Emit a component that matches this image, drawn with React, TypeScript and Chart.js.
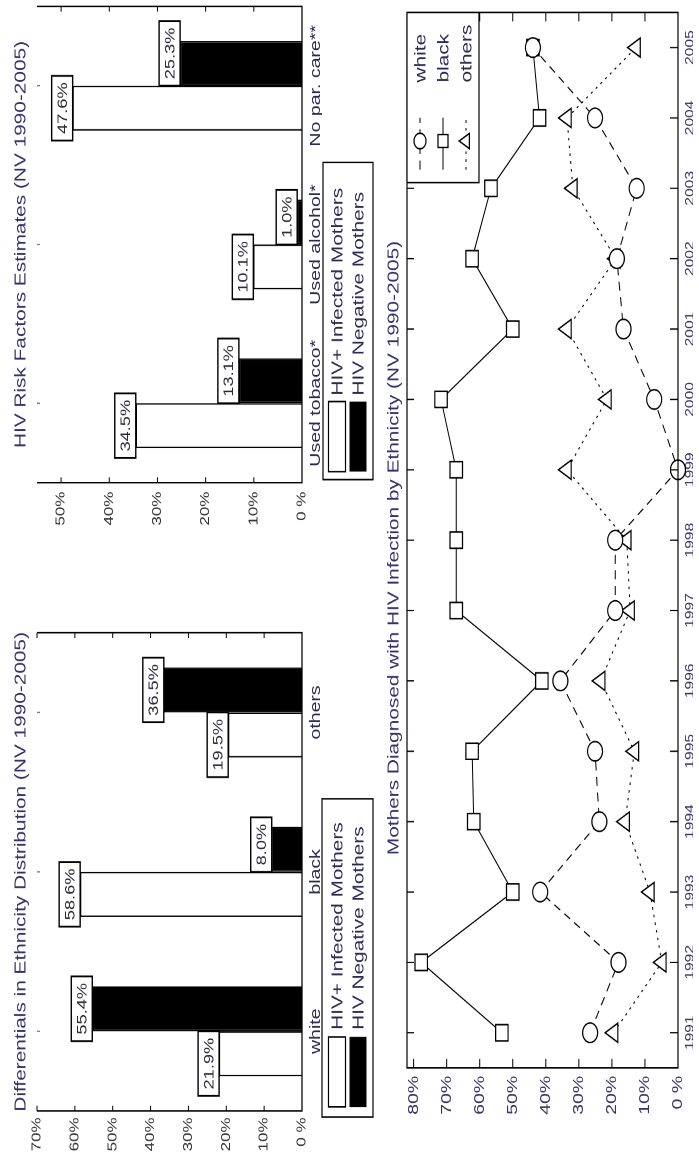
import React, { useEffect, useRef } from 'react';
import { Chart, registerables } from 'chart.js';

Chart.register(...registerables);

// ---------------- data ----------------
const ETHNICITY_CATEGORIES = ['white', 'black', 'others'];
const ETHNICITY_HIV_POSITIVE = [21.9, 58.6, 19.5];
const ETHNICITY_HIV_NEGATIVE = [55.4, 8.0, 36.5];
const ETHNICITY_TICKS = [0, 10, 20, 30, 40, 50, 60, 70];

const RISK_CATEGORIES = ['Used tobacco*', 'Used alcohol*', 'No par. care**'];
const RISK_HIV_POSITIVE = [34.5, 10.1, 47.6];
const RISK_HIV_NEGATIVE = [13.1, 1.0, 25.3];
const RISK_TICKS = [0, 10, 20, 30, 40, 50];

const YEARS = ['1991', '1992', '1993', '1994', '1995', '1996', '1997', '1998', '1999', '2000', '2001', '2002', '2003', '2004', '2005'];
const WHITE_SHARE = [26.6, 18.0, 41.7, 23.8, 25.1, 35.6, 19.0, 19.0, 0.0, 7.2, 16.5, 18.5, 12.5, 25.1, 43.9];
const BLACK_SHARE = [53.3, 77.7, 50.0, 61.8, 62.3, 41.2, 67.1, 67.1, 67.1, 71.7, 50.0, 62.3, 56.6, 41.9, 43.9];
const OTHERS_SHARE = [19.5, 4.9, 8.5, 16.0, 13.2, 23.4, 14.5, 15.5, 33.6, 21.5, 33.6, 18.8, 31.8, 33.6, 12.7];
const LINE_TICKS = [0, 10, 20, 30, 40, 50, 60, 70, 80];

const BAR_SERIES = ['HIV+ Infected Mothers', 'HIV Negative Mothers'];
const LINE_SERIES = ['white', 'black', 'others'];
const ETHNICITY_TITLE = 'Differentials in Ethnicity Distribution (NV 1990-2005)';
const RISK_TITLE = 'HIV Risk Factors Estimates (NV 1990-2005)';
const LINE_TITLE = 'Mothers Diagnosed with HIV Infection by Ethnicity (NV 1990-2005)';

// ---------------- layout ----------------
const S = 1.3; // horizontal stretch of the scanned page
const W0 = 1166 / S;
const H0 = 699;
const FONT = "'Liberation Sans', Arial, Helvetica, sans-serif";
const TITLE_COLOR = '#35316c';
const LABEL_COLOR = '#2d2a52';
const TICK_COLOR = '#3a3468';

const pct = (v: number) => (v === 0 ? '0 %' : `${v}%`);

function line(ctx: CanvasRenderingContext2D, x1: number, y1: number, x2: number, y2: number) {
  ctx.beginPath();
  ctx.moveTo(x1, y1);
  ctx.lineTo(x2, y2);
  ctx.stroke();
}

type LegendBox = { x0: number; x1: number; y0: number; y1: number; swX: number; swW: number; textX: number; rows: number[] };

function makeBarPlugin(title: string, ticks: number[], legend: LegendBox) {
  return {
    id: 'barDecor',
    afterDraw(chart: any) {
      const { ctx, chartArea: a, scales } = chart;
      ctx.save();
      ctx.strokeStyle = '#000';
      ctx.lineWidth = 1.2;
      ctx.beginPath();
      ctx.moveTo(a.left, a.top);
      ctx.lineTo(a.left, a.bottom);
      ctx.lineTo(a.right, a.bottom);
      ctx.lineTo(a.right, a.top);
      ctx.stroke();
      ctx.lineWidth = 1;
      ticks.forEach((v) => {
        if (v === 0) return;
        const y = scales.y.getPixelForValue(v);
        line(ctx, a.left, y, a.left + 4, y);
        line(ctx, a.right - 4, y, a.right, y);
      });
      ctx.strokeStyle = '#777';
      chart.data.labels.forEach((_: any, i: number) => {
        const x = scales.x.getPixelForValue(i);
        line(ctx, x, a.top, x, a.top + 3);
      });

      // value label boxes
      ctx.font = `14px ${FONT}`;
      [0, 1].forEach((di) => {
        const meta = chart.getDatasetMeta(di);
        const vals = chart.data.datasets[di].data;
        const other = chart.data.datasets[1 - di].data;
        meta.data.forEach((bar: any, j: number) => {
          const v = vals[j];
          const text = `${v.toFixed(1)}%`;
          const tw = ctx.measureText(text).width;
          const bw = tw + 10;
          const bh = 21;
          const left = bar.x - bar.width / 2;
          const right = bar.x + bar.width / 2;
          let x0 = bar.x - bw / 2;
          if (other[j] > v) x0 = di === 0 ? right - bw : left;
          const y0 = bar.y - bh;
          ctx.fillStyle = '#fff';
          ctx.fillRect(x0, y0, bw, bh);
          ctx.strokeStyle = '#000';
          ctx.lineWidth = 1.4;
          ctx.strokeRect(x0, y0, bw, bh);
          ctx.fillStyle = '#2a2a3a';
          ctx.textAlign = 'center';
          ctx.textBaseline = 'middle';
          ctx.fillText(text, x0 + bw / 2, y0 + bh / 2 + 1);
        });
      });

      // title
      ctx.font = `16px ${FONT}`;
      ctx.fillStyle = TITLE_COLOR;
      ctx.textAlign = 'center';
      ctx.textBaseline = 'middle';
      ctx.fillText(title, (a.left + a.right) / 2, 21);

      // legend
      ctx.strokeStyle = '#000';
      ctx.lineWidth = 1.2;
      ctx.strokeRect(legend.x0, legend.y0, legend.x1 - legend.x0, legend.y1 - legend.y0);
      legend.rows.forEach((cy, i) => {
        const h = 17;
        if (i === 0) {
          ctx.fillStyle = '#fff';
          ctx.fillRect(legend.swX, cy - h / 2, legend.swW, h);
          ctx.lineWidth = 1.2;
          ctx.strokeRect(legend.swX, cy - h / 2, legend.swW, h);
        } else {
          ctx.fillStyle = '#000';
          ctx.fillRect(legend.swX, cy - h / 2, legend.swW, h);
        }
        ctx.font = `16px ${FONT}`;
        ctx.fillStyle = LABEL_COLOR;
        ctx.textAlign = 'left';
        ctx.textBaseline = 'middle';
        ctx.fillText(BAR_SERIES[i], legend.textX, cy + 1);
      });
      ctx.restore();
    },
  };
}

function barConfig(
  categories: string[],
  pos: number[],
  neg: number[],
  ticks: number[],
  max: number,
  area: { left: number; right: number; top: number; bottom: number },
  yWidth: number,
  yPad: number,
  title: string,
  legend: LegendBox
): any {
  const common = { barPercentage: 1, categoryPercentage: 0.565, borderColor: '#000', borderWidth: 1.2 };
  return {
    type: 'bar',
    data: {
      labels: categories,
      datasets: [
        { label: BAR_SERIES[0], data: pos, backgroundColor: '#fff', ...common },
        { label: BAR_SERIES[1], data: neg, backgroundColor: '#000', ...common },
      ],
    },
    options: {
      animation: false,
      responsive: true,
      maintainAspectRatio: false,
      devicePixelRatio: 2,
      layout: {
        padding: { left: area.left - yWidth, right: W0 - area.right, top: area.top, bottom: H0 - area.bottom - 20 },
      },
      plugins: { legend: { display: false }, title: { display: false }, tooltip: { enabled: false } },
      scales: {
        x: {
          grid: { display: false, drawTicks: false },
          border: { display: false },
          ticks: { color: LABEL_COLOR, font: { family: FONT, size: 15 }, padding: 5, maxRotation: 0, minRotation: 0, autoSkip: false },
          afterFit: (s: any) => {
            s.height = 20;
          },
        },
        y: {
          min: 0,
          max,
          grid: { display: false, drawTicks: false },
          border: { display: false },
          ticks: { color: '#333', font: { family: FONT, size: 13 }, padding: yPad, callback: (v: number) => pct(v) },
          afterBuildTicks: (s: any) => {
            s.ticks = ticks.map((v) => ({ value: v }));
          },
          afterFit: (s: any) => {
            s.width = yWidth;
          },
        },
      },
    },
    plugins: [makeBarPlugin(title, ticks, legend)],
  };
}

function drawMarker(ctx: CanvasRenderingContext2D, style: string, x: number, y: number, r: number) {
  ctx.beginPath();
  if (style === 'circle') {
    ctx.arc(x, y, r, 0, Math.PI * 2);
  } else if (style === 'rect') {
    const h = r * Math.SQRT1_2;
    ctx.rect(x - h, y - h, 2 * h, 2 * h);
  } else {
    for (let k = 0; k < 3; k++) {
      const ang = (k * 2 * Math.PI) / 3;
      const px = x + Math.sin(ang) * r;
      const py = y - Math.cos(ang) * r;
      if (k === 0) ctx.moveTo(px, py);
      else ctx.lineTo(px, py);
    }
    ctx.closePath();
  }
  ctx.fillStyle = '#fff';
  ctx.fill();
  ctx.stroke();
}

const LINE_STYLES = [
  { dash: [7, 5], point: 'circle', radius: 7.5 },
  { dash: [], point: 'rect', radius: 8.8 },
  { dash: [2, 4], point: 'triangle', radius: 8.5 },
];

const lineDecor = {
  id: 'lineDecor',
  afterDraw(chart: any) {
    const { ctx, chartArea: a, scales } = chart;
    ctx.save();
    ctx.strokeStyle = '#000';
    ctx.lineWidth = 1.2;
    ctx.strokeRect(a.left, a.top, a.right - a.left, a.bottom - a.top);
    ctx.lineWidth = 1;
    LINE_TICKS.forEach((v) => {
      const y = scales.y.getPixelForValue(v);
      line(ctx, a.left, y, a.left + 7, y);
      line(ctx, a.right - 7, y, a.right, y);
    });
    YEARS.forEach((_, i) => {
      const x = scales.x.getPixelForValue(i);
      line(ctx, x, a.bottom, x, a.bottom - 8);
      line(ctx, x, a.top, x, a.top + 7);
    });

    // legend
    const lx0 = 756;
    const lx1 = a.right;
    const ly0 = a.top;
    const ly1 = 479;
    ctx.fillStyle = '#fff';
    ctx.fillRect(lx0, ly0, lx1 - lx0, ly1 - ly0);
    ctx.lineWidth = 1.2;
    ctx.strokeRect(lx0, ly0, lx1 - lx0, ly1 - ly0);
    const rows = [420, 443, 466];
    rows.forEach((cy, i) => {
      const st = LINE_STYLES[i];
      ctx.strokeStyle = '#000';
      ctx.lineWidth = 1;
      ctx.setLineDash(st.dash);
      line(ctx, 766, cy, 806, cy);
      ctx.setLineDash([]);
      ctx.lineWidth = 1.2;
      drawMarker(ctx, st.point, 788, cy, st.radius * 0.8);
      ctx.font = `16px ${FONT}`;
      ctx.fillStyle = LABEL_COLOR;
      ctx.textAlign = 'left';
      ctx.textBaseline = 'middle';
      ctx.fillText(LINE_SERIES[i], 833, cy + 1);
    });

    // title
    ctx.font = `16px ${FONT}`;
    ctx.fillStyle = TITLE_COLOR;
    ctx.textAlign = 'center';
    ctx.textBaseline = 'middle';
    ctx.fillText(LINE_TITLE, (a.left + a.right) / 2 - 6, 394);
    ctx.restore();
  },
};

function lineConfig(): any {
  const area = { left: 98 / S, right: 1159 / S, top: 407, bottom: 678 };
  const yWidth = 40;
  const series = [WHITE_SHARE, BLACK_SHARE, OTHERS_SHARE];
  return {
    type: 'line',
    data: {
      labels: YEARS,
      datasets: series.map((d, i) => ({
        label: LINE_SERIES[i],
        data: d,
        borderColor: '#000',
        borderWidth: 1,
        borderDash: LINE_STYLES[i].dash,
        pointStyle: LINE_STYLES[i].point,
        pointRadius: LINE_STYLES[i].radius,
        pointBackgroundColor: '#fff',
        pointBorderColor: '#000',
        pointBorderWidth: 1.2,
        tension: 0,
        fill: false,
        clip: false,
      })),
    },
    options: {
      animation: false,
      responsive: true,
      maintainAspectRatio: false,
      devicePixelRatio: 2,
      layout: {
        padding: { left: area.left - yWidth, right: W0 - area.right, top: area.top, bottom: H0 - area.bottom - 15 },
      },
      plugins: { legend: { display: false }, title: { display: false }, tooltip: { enabled: false } },
      scales: {
        x: {
          type: 'category',
          offset: true,
          grid: { display: false, drawTicks: false, offset: true },
          border: { display: false },
          ticks: { color: TICK_COLOR, font: { family: FONT, size: 12 }, padding: 5, maxRotation: 0, minRotation: 0, autoSkip: false },
          afterFit: (s: any) => {
            s.height = 15;
          },
        },
        y: {
          min: 0,
          max: 82,
          grid: { display: false, drawTicks: false },
          border: { display: false },
          ticks: { color: TICK_COLOR, font: { family: FONT, size: 15 }, padding: 6, callback: (v: number) => pct(v) },
          afterBuildTicks: (s: any) => {
            s.ticks = LINE_TICKS.map((v) => ({ value: v }));
          },
          afterFit: (s: any) => {
            s.width = yWidth;
          },
        },
      },
    },
    plugins: [lineDecor],
  };
}

export default function App() {
  const ethRef = useRef<HTMLCanvasElement>(null);
  const riskRef = useRef<HTMLCanvasElement>(null);
  const lineRef = useRef<HTMLCanvasElement>(null);

  useEffect(() => {
    const eth = new Chart(
      ethRef.current as HTMLCanvasElement,
      barConfig(
        ETHNICITY_CATEGORIES,
        ETHNICITY_HIV_POSITIVE,
        ETHNICITY_HIV_NEGATIVE,
        ETHNICITY_TICKS,
        70,
        { left: 55 / S, right: 533 / S, top: 37, bottom: 302 },
        42,
        5,
        ETHNICITY_TITLE,
        { x0: 49 / S, x1: 367 / S, y0: 322, y1: 373, swX: 59 / S, swW: 70 / S, textX: 136 / S, rows: [337, 358] }
      )
    );
    const risk = new Chart(
      riskRef.current as HTMLCanvasElement,
      barConfig(
        RISK_CATEGORIES,
        RISK_HIV_POSITIVE,
        RISK_HIV_NEGATIVE,
        RISK_TICKS,
        55,
        { left: 683 / S, right: 1159 / S, top: 37, bottom: 302 },
        40,
        7,
        RISK_TITLE,
        { x0: 686 / S, x1: 1003 / S, y0: 323, y1: 373, swX: 694 / S, swW: 70 / S, textX: 770 / S, rows: [337, 358] }
      )
    );
    const ln = new Chart(lineRef.current as HTMLCanvasElement, lineConfig());
    return () => {
      eth.destroy();
      risk.destroy();
      ln.destroy();
    };
  }, []);

  const layer: React.CSSProperties = { position: 'absolute', left: 0, top: 0, width: W0, height: H0 };
  return (
    <div
      style={{
        position: 'absolute',
        left: 0,
        top: 0,
        width: W0,
        height: H0,
        background: '#fff',
        transformOrigin: '0 0',
        transform: `translate(0px, 1166px) rotate(-90deg) scale(${S}, 1)`,
      }}
    >
      <div style={layer}>
        <canvas ref={ethRef} />
      </div>
      <div style={layer}>
        <canvas ref={riskRef} />
      </div>
      <div style={layer}>
        <canvas ref={lineRef} />
      </div>
    </div>
  );
}
